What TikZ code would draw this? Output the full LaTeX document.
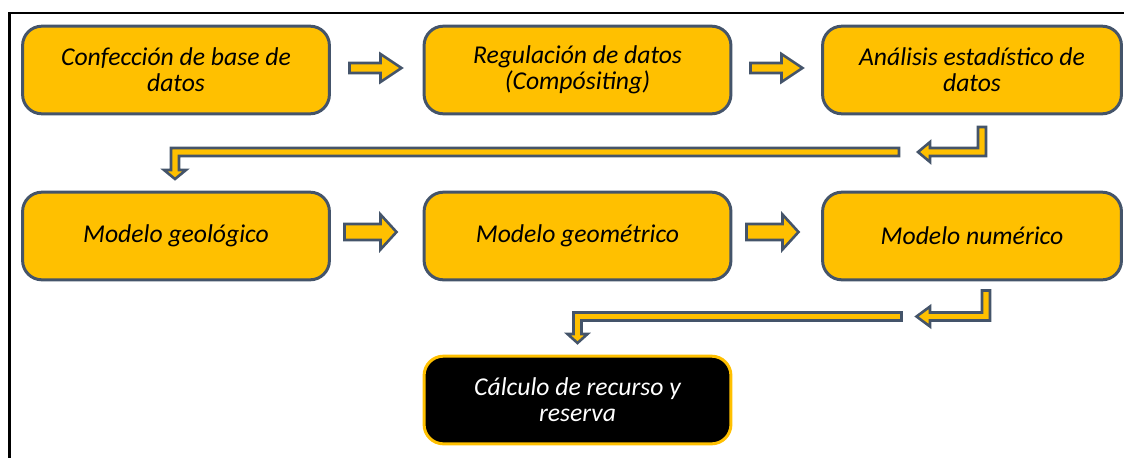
\documentclass[tikz,border=0pt]{standalone}
\usepackage{fontspec}
\setmainfont{Carlito}
\usepackage{tikz}
\usetikzlibrary{positioning}
\definecolor{gold}{HTML}{FFC000}
\definecolor{slate}{HTML}{44546A}
\tikzset{
  box/.style={draw=slate, fill=gold, line width=3pt*0.567, rounded corners=11pt,
    minimum width=308*0.567pt, minimum height=88*0.567pt, align=center,
    font=\fontsize{14.6}{14.7}\selectfont\itshape, inner sep=0pt},
  lastbox/.style={box, draw=gold, fill=black, text=white},
  fat/.style={draw=slate, fill=gold, line width=2.6pt*0.567, line join=miter}
}
% straight block arrow: start, length, shaft half, head half, head length
\newcommand{\fatarrow}[5]{%
  \draw[fat] #1 ++(0,-#3) -- ++(#2-#5,0) -- ++(0,#3-#4) -- ++(#5,#4)
    -- ++(-#5,#4) -- ++(0,#3-#4) -- ++(-#2+#5,0) -- cycle;}

\begin{document}
\begin{tikzpicture}[x=0.02cm, y=-0.02cm]
\useasboundingbox (0,0) rectangle (1124,457);
\draw[line width=2.5*0.567pt] (9.5,470) -- (9.5,13) -- (1140,13);

\node[box] (conf) at (176,70) {Confección de base de\\datos};
\node[box] (reg) at (577.5,70) {Regulación de datos\\(Compósiting)};
\node[box, minimum width=300*0.567pt] (anal) at (972,70) {Análisis estadístico de\\datos};
\node[box] (geol) at (176,236) {Modelo geológico};
\node[box] (geom) at (577.5,236) {Modelo geométrico};
\node[box, minimum width=300*0.567pt] (num) at (972,236) {Modelo numérico};
\node[lastbox] (calc) at (577.5,400) {Cálculo de recurso y\\reserva};

\fatarrow{(349.5,68)}{52}{5}{14}{21}
\fatarrow{(750.5,68)}{52}{5}{14}{21}
\fatarrow{(344.5,232)}{52}{8}{17.5}{16}
\fatarrow{(746.5,232)}{52}{8}{17.5}{16}

\draw[fat] (978,127) -- (986,127) -- (986,156) -- (930,156) -- (930,162)
  -- (918,152) -- (930,142) -- (930,148) -- (978,148) -- cycle;
\draw[fat] (899,148) -- (171,148) -- (171,170) -- (164,170) -- (175,179)
  -- (186,170) -- (179,170) -- (179,156) -- (899,156) -- cycle;

\draw[fat] (982,290.5) -- (990,290.5) -- (990,320.5) -- (930,320.5) -- (930,326.5)
  -- (916.5,316.5) -- (930,306.5) -- (930,312.5) -- (982,312.5) -- cycle;
\draw[fat] (901.5,312.5) -- (573.5,312.5) -- (573.5,334) -- (567.5,334)
  -- (577.5,343) -- (587.5,334) -- (581.5,334) -- (581.5,320.5) -- (901.5,320.5) -- cycle;
\end{tikzpicture}
\end{document}
